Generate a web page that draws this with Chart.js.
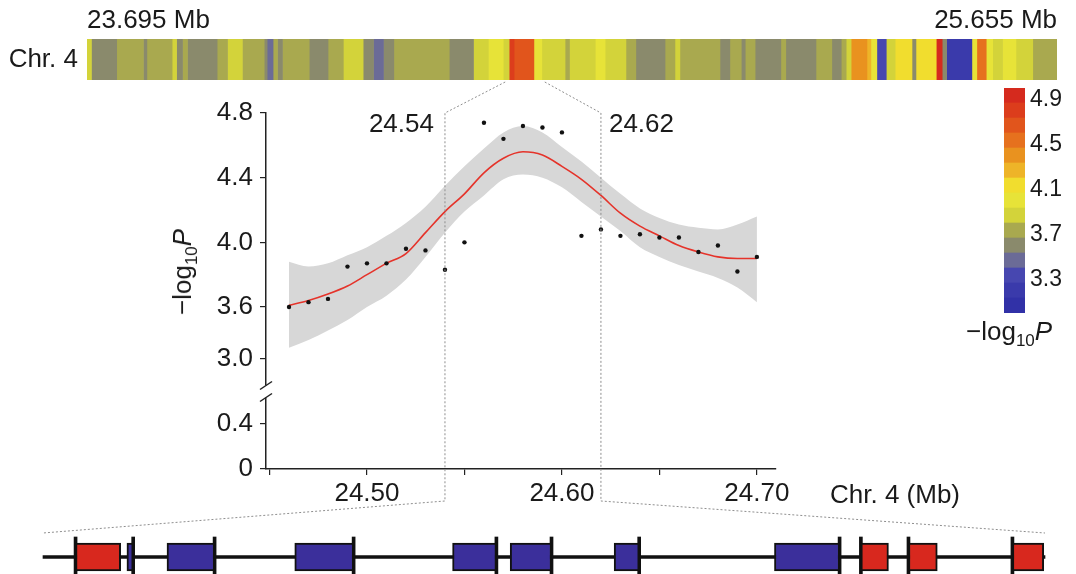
<!DOCTYPE html>
<html>
<head>
<meta charset="utf-8">
<script src="https://cdn.jsdelivr.net/npm/chart.js@4.4.1/dist/chart.umd.min.js"></script>
<style>
  html, body { margin: 0; padding: 0; background: #fff; }
  #wrap { position: relative; width: 1076px; height: 574px; overflow: hidden;
          font-family: "Liberation Sans", Arial, Helvetica, sans-serif; color: #1a1a1a; }
  canvas { position: absolute; }
  .lbl { position: absolute; font-size: 26px; line-height: 1; white-space: nowrap; }
  .lbl sub { font-size: 17px; vertical-align: -6px; line-height: 0; }
</style>
</head>
<body>
<div id="wrap">
  <canvas id="mainChart" width="1076" height="574" style="left:0;top:0"></canvas>
  <canvas id="chrChart" width="1076" height="90" style="left:0;top:0"></canvas>
  <canvas id="legendChart" width="116" height="250" style="left:960px;top:80px"></canvas>
  <canvas id="geneChart" width="1076" height="54" style="left:0;top:520px"></canvas>
  <div class="lbl" id="yTitle" style="left:182px;top:272px;transform:translate(-50%,-50%) rotate(-90deg)">&minus;log<sub>10</sub><i>P</i></div>
  <div class="lbl" id="xTitle" style="left:830px;top:481px">Chr. 4 (Mb)</div>
  <div class="lbl" id="legendTitle" style="left:966px;top:318px">&minus;log<sub>10</sub><i>P</i></div>
</div>
<script>
// chromosome overview (Mb) and -log10P of each segment
const chrMin = 23.695;
const chrMax = 25.655;
const chrStarts = [23.695, 23.704, 23.755, 23.809, 23.816, 23.867, 23.876, 23.888, 23.898, 23.958,
  23.979, 24.009, 24.053, 24.059, 24.071, 24.080, 24.090, 24.144, 24.182, 24.213,
  24.253, 24.274, 24.294, 24.315, 24.427, 24.476, 24.506, 24.536, 24.548, 24.558,
  24.598, 24.614, 24.661, 24.670, 24.722, 24.742, 24.784, 24.804, 24.863, 24.883,
  24.893, 24.974, 24.994, 25.017, 25.025, 25.045, 25.097, 25.107, 25.168, 25.200,
  25.219, 25.229, 25.239, 25.271, 25.279, 25.291, 25.310, 25.328, 25.362, 25.370,
  25.411, 25.423, 25.432, 25.483, 25.493, 25.512, 25.525, 25.545, 25.572, 25.606];
const chrLogP = [3.87, 3.60, 3.73, 3.60, 3.73, 3.87, 3.60, 3.73, 3.60, 3.73,
  3.87, 3.73, 3.60, 3.47, 3.73, 3.60, 3.73, 3.60, 3.73, 3.87,
  3.60, 3.47, 3.60, 3.73, 3.60, 3.87, 4.00, 3.87, 4.80, 4.67,
  4.00, 3.87, 3.73, 3.87, 4.00, 3.87, 3.73, 3.60, 3.73, 3.87,
  3.73, 3.60, 3.73, 3.60, 3.73, 3.60, 3.73, 3.60, 3.73, 3.60,
  3.73, 3.87, 4.40, 4.27, 4.00, 3.33, 3.87, 4.13, 3.60, 4.13,
  4.93, 3.60, 3.20, 4.00, 4.53, 4.00, 3.87, 4.00, 3.87, 3.73];

// colour key, bottom (3.0) to top (5.0)
const legendMin = 3.0;
const legendMax = 5.0;
const legendColors = ['#3131a7', '#3a3aab', '#4747b0', '#6b6b97', '#8a8a6c', '#a9a94f', '#d3d33a',
  '#e7e338', '#f1dd2e', '#eeb428', '#e9921f', '#e6711e', '#e1551c', '#dc3d1c', '#d52a1e'];
const legendTicks = [3.3, 3.7, 4.1, 4.5, 4.9];

// zoomed region: SNP positions (Mb) and -log10P
const snpPos = [24.46, 24.47, 24.48, 24.49, 24.50, 24.51, 24.52, 24.53, 24.54, 24.55, 24.56, 24.57, 24.58,
  24.59, 24.60, 24.61, 24.62, 24.63, 24.64, 24.65, 24.66, 24.67, 24.68, 24.69, 24.70];
const snpLogP = [3.60, 3.63, 3.65, 3.85, 3.87, 3.87, 3.96, 3.95, 3.83, 4.00, 4.74, 4.64, 4.72,
  4.71, 4.68, 4.04, 4.08, 4.04, 4.05, 4.03, 4.03, 3.94, 3.98, 3.82, 3.91];
const fitLogP = [3.61, 3.64, 3.68, 3.73, 3.80, 3.87, 3.93, 4.06, 4.19, 4.30, 4.43, 4.52, 4.56,
  4.54, 4.47, 4.39, 4.29, 4.18, 4.10, 4.04, 3.98, 3.94, 3.91, 3.90, 3.90];
const fitUpper = [3.88, 3.85, 3.87, 3.92, 3.97, 4.04, 4.12, 4.22, 4.35, 4.47, 4.58, 4.68, 4.72,
  4.68, 4.59, 4.50, 4.40, 4.30, 4.21, 4.15, 4.11, 4.09, 4.08, 4.11, 4.16];
const fitLower = [3.13, 3.22, 3.33, 3.45, 3.60, 3.67, 3.77, 3.91, 4.06, 4.19, 4.29, 4.39, 4.42,
  4.40, 4.34, 4.25, 4.16, 4.07, 3.97, 3.91, 3.86, 3.82, 3.78, 3.72, 3.63];
const zoomRange = [24.54, 24.62];

const yTickVals = [0, 0.4, 3.0, 3.6, 4.0, 4.4, 4.8];
const yTickLabels = ['0', '0.4', '3.0', '3.6', '4.0', '4.4', '4.8'];
const xTickVals = [24.45, 24.50, 24.55, 24.60, 24.65, 24.70];
const breakVal = 1.7;

// genes inside the zoomed window (Mb), strand +1 red, -1 blue
const geneStart = [24.5426, 24.5467, 24.5499, 24.5601, 24.5727, 24.5773, 24.5856, 24.5984, 24.6053, 24.6091, 24.6174];
const geneEnd   = [24.5462, 24.5472, 24.5537, 24.5648, 24.5762, 24.5806, 24.5876, 24.6036, 24.6075, 24.6114, 24.6199];
const geneStrand = [1, -1, -1, -1, -1, -1, -1, -1, 1, 1, 1];

const INK = '#1a1a1a';
Chart.defaults.font.family = '"Liberation Sans", Arial, Helvetica, sans-serif';
Chart.defaults.color = INK;

// broken y axis: 0-0.4 | break | 3.0-3.6 compressed | 3.6-4.8
function yMap(v) {
  if (v >= 3.6) return 162 + (v - 3.6) * 161.67;
  if (v >= 3.0) return 110 + (v - 3.0) * 86.67;
  if (v >= 0.4) return 45 + (v - 0.4) * 25;
  return v * 112.5;
}

function colorFor(v) {
  const step = (legendMax - legendMin) / legendColors.length;
  const i = Math.min(legendColors.length - 1, Math.max(0, Math.floor((v - legendMin) / step)));
  return legendColors[i];
}

const noPlugins = { legend: { display: false }, tooltip: { enabled: false } };

// ---- chromosome bar ----
const chrChart = new Chart(document.getElementById('chrChart'), {
  type: 'bar',
  data: {
    labels: ['Chr. 4'],
    datasets: chrStarts.map((s, i) => ({
      data: [[s, i + 1 < chrStarts.length ? chrStarts[i + 1] : chrMax]],
      backgroundColor: colorFor(chrLogP[i]),
      borderWidth: 0
    }))
  },
  options: {
    indexAxis: 'y',
    responsive: false,
    animation: false,
    datasets: { bar: { grouped: false, barPercentage: 1, categoryPercentage: 1 } },
    layout: { padding: { right: 19, bottom: 10 } },
    plugins: noPlugins,
    scales: {
      x: {
        type: 'linear', position: 'top', min: chrMin, max: chrMax,
        afterBuildTicks: s => { s.ticks = [{ value: chrMin }, { value: chrMax }]; },
        afterFit: s => { s.height = 39; s.paddingLeft = 0; s.paddingRight = 0; },
        grid: { display: false, drawTicks: false },
        border: { display: false },
        ticks: { align: 'inner', maxRotation: 0, autoSkip: false, padding: 3,
                 font: { size: 26 }, callback: v => v.toFixed(3) + ' Mb' }
      },
      y: {
        afterFit: s => { s.width = 87; s.paddingTop = 0; s.paddingBottom = 0; },
        grid: { display: false, drawTicks: false },
        border: { display: false },
        ticks: { font: { size: 26 }, padding: 9 }
      }
    }
  }
});

// ---- colour key ----
const legendStep = (legendMax - legendMin) / legendColors.length;
new Chart(document.getElementById('legendChart'), {
  type: 'bar',
  data: {
    labels: [''],
    datasets: legendColors.map((c, i) => ({
      data: [[legendMin + i * legendStep, legendMin + (i + 1) * legendStep]],
      backgroundColor: c,
      borderWidth: 0
    }))
  },
  options: {
    responsive: false,
    animation: false,
    datasets: { bar: { grouped: false, barPercentage: 1, categoryPercentage: 1 } },
    layout: { padding: { left: 44, top: 8, bottom: 17 } },
    plugins: noPlugins,
    scales: {
      x: { display: false },
      y: {
        position: 'right', min: legendMin, max: legendMax,
        afterBuildTicks: s => { s.ticks = legendTicks.map(v => ({ value: v })); },
        afterFit: s => { s.width = 51; s.paddingTop = 0; s.paddingBottom = 0; },
        grid: { display: false, drawTicks: false },
        border: { display: false },
        ticks: { font: { size: 23 }, padding: 5, callback: v => v.toFixed(1) }
      }
    }
  }
});

// ---- gene track ----
const geneDatasets = [{ data: [[zoomRange[0], zoomRange[1]]], backgroundColor: '#111', barThickness: 3, order: 10 }];
geneStart.forEach((s, i) => {
  const p = geneStrand[i] > 0 ? s : geneEnd[i];
  geneDatasets.push({ data: [[p - 0.00012, p + 0.00012]], backgroundColor: '#111', barThickness: 40, order: 5 });
  geneDatasets.push({
    data: [[s, geneEnd[i]]],
    backgroundColor: geneStrand[i] > 0 ? '#d8281e' : '#3b2f9b',
    borderColor: '#111', borderWidth: 2, borderSkipped: false,
    barThickness: 28, order: 1
  });
});
const geneCanvas = document.getElementById('geneChart');
const geneChart = new Chart(geneCanvas, {
  type: 'bar',
  data: { labels: ['genes'], datasets: geneDatasets },
  options: {
    indexAxis: 'y',
    responsive: false,
    animation: false,
    datasets: { bar: { grouped: false, clip: false } },
    layout: { padding: { left: 43, right: 31, top: 20, bottom: 0 } },
    plugins: noPlugins,
    scales: {
      x: { type: 'linear', display: false, min: zoomRange[0], max: zoomRange[1] },
      y: { display: false }
    }
  }
});

// ---- axis break, zoom connectors and window labels ----
const overlay = {
  id: 'overlay',
  afterDraw(chart) {
    const { ctx, chartArea, scales } = chart;
    const x0 = chartArea.left;
    const yb = scales.y.getPixelForValue(yMap(breakVal));
    ctx.save();
    ctx.fillStyle = '#fff';
    ctx.fillRect(x0 - 3, yb - 6, 6, 12);
    ctx.strokeStyle = '#222';
    ctx.lineWidth = 1.5;
    [-6, 6].forEach(d => {
      ctx.beginPath();
      ctx.moveTo(x0 - 6, yb + d + 4);
      ctx.lineTo(x0 + 6, yb + d - 4);
      ctx.stroke();
    });

    ctx.strokeStyle = '#8e8e8e';
    ctx.lineWidth = 1;
    ctx.setLineDash([2, 2]);
    const chrBottom = chrChart.chartArea.bottom + 2;
    const geneTop = geneCanvas.offsetTop + geneChart.chartArea.top - 7;
    zoomRange.forEach(v => {
      const px = scales.x.getPixelForValue(v);
      ctx.beginPath();
      ctx.moveTo(chrChart.scales.x.getPixelForValue(v), chrBottom);
      ctx.lineTo(px, chartArea.top);
      ctx.lineTo(px, chartArea.bottom + 32);
      ctx.lineTo(geneChart.scales.x.getPixelForValue(v), geneTop);
      ctx.stroke();
    });
    ctx.setLineDash([]);

    ctx.fillStyle = INK;
    ctx.font = '26px "Liberation Sans", Arial, sans-serif';
    ctx.textBaseline = 'middle';
    ctx.textAlign = 'right';
    ctx.fillText(zoomRange[0].toFixed(2), scales.x.getPixelForValue(zoomRange[0]) - 11, chartArea.top + 12);
    ctx.textAlign = 'left';
    ctx.fillText(zoomRange[1].toFixed(2), scales.x.getPixelForValue(zoomRange[1]) + 8, chartArea.top + 12);
    ctx.restore();
  }
};

// ---- association plot ----
const pts = (ys) => snpPos.map((x, i) => ({ x: x, y: yMap(ys[i]) }));
new Chart(document.getElementById('mainChart'), {
  type: 'line',
  data: {
    datasets: [
      { label: 'SNPs', data: pts(snpLogP), showLine: false, pointRadius: 2.2,
        pointBackgroundColor: '#111', pointBorderWidth: 0, order: 0 },
      { label: 'fit', data: pts(fitLogP), borderColor: '#e5332a', borderWidth: 1.6,
        pointRadius: 0, cubicInterpolationMode: 'monotone', order: 1 },
      { label: 'upper', data: pts(fitUpper), borderColor: 'transparent', borderWidth: 0,
        pointRadius: 0, fill: '+1', backgroundColor: '#d7d7d7', cubicInterpolationMode: 'monotone', order: 2 },
      { label: 'lower', data: pts(fitLower), borderColor: 'transparent', borderWidth: 0,
        pointRadius: 0, cubicInterpolationMode: 'monotone', order: 3 }
    ]
  },
  options: {
    responsive: false,
    animation: false,
    layout: { padding: { left: 0, top: 113, right: 300, bottom: 65 } },
    plugins: noPlugins,
    scales: {
      x: {
        type: 'linear', min: 24.4482, max: 24.7098,
        afterBuildTicks: s => { s.ticks = xTickVals.map(v => ({ value: v })); },
        afterFit: s => { s.height = 40; s.paddingLeft = 0; s.paddingRight = 0; },
        grid: { drawOnChartArea: false, tickLength: 6, color: '#222', lineWidth: 1.2 },
        border: { color: '#222', width: 1.5 },
        ticks: { font: { size: 26 }, padding: 3, maxRotation: 0, autoSkip: false,
                 callback: (v, i) => (i % 2 === 1 ? v.toFixed(2) : '') }
      },
      y: {
        min: 0, max: yMap(4.8),
        afterBuildTicks: s => { s.ticks = yTickVals.map(v => ({ value: yMap(v) })); },
        afterFit: s => { s.width = 266; s.paddingTop = 0; s.paddingBottom = 0; },
        grid: { drawOnChartArea: false, tickLength: 6, color: '#222', lineWidth: 1.2 },
        border: { color: '#222', width: 1.5 },
        ticks: { font: { size: 26 }, padding: 7, autoSkip: false,
                 callback: (v, i) => yTickLabels[i] }
      }
    }
  },
  plugins: [overlay]
});
</script>
</body>
</html>
